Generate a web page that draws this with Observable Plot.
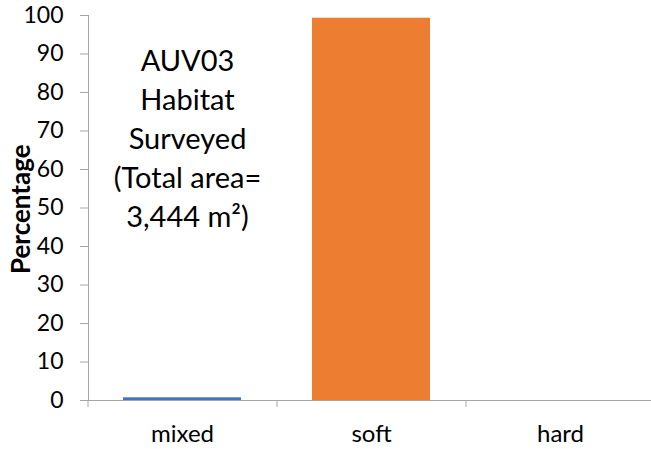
<!DOCTYPE html>
<html>
<head>
<meta charset="utf-8">
<script src="https://cdn.jsdelivr.net/npm/d3@7"></script>
<script src="https://cdn.jsdelivr.net/npm/@observablehq/plot@0.6"></script>
<style>
  html, body { margin: 0; padding: 0; background: white; }
</style>
</head>
<body>
<div id="chart"></div>
<script>
const categories = ["mixed", "soft", "hard"];
const values = [0.7, 99.3, 0];
const barColors = ["#4472C4", "#ED7D31", "#A5A5A5"];
const yTicks = [0, 10, 20, 30, 40, 50, 60, 70, 80, 90, 100];
const yLabel = "Percentage";
const annotationLines = ["AUV03", "Habitat", "Surveyed", "(Total area=", "3,444 m²)"];

const data = categories.map((c, i) => ({category: c, value: values[i], color: barColors[i]}));
const axisColor = "#A6A6A6";

const chart = Plot.plot({
  width: 651,
  height: 449,
  marginLeft: 88,
  marginTop: 15,
  marginBottom: 49,
  marginRight: 0,
  style: {fontFamily: "Lato, 'Open Sans', sans-serif", background: "white", color: "black"},
  x: {domain: categories, range: [88, 655], paddingInner: 0.375, paddingOuter: 0.1875, label: null},
  y: {domain: [0, 100], label: null},
  marks: [
    Plot.barY(data, {x: "category", y: "value", fill: d => d.color}),
    Plot.ruleY([0], {stroke: axisColor}),
    Plot.frame({anchor: "left", stroke: axisColor}),
    Plot.ruleX(categories, {x: d => d, y1: 0, y2: -1.8, dx: -94.5, stroke: axisColor}),
    Plot.axisY({ticks: yTicks, tickSize: 8, tickPadding: 17, fontSize: 23, stroke: axisColor, fill: "black", label: null}),
    Plot.axisX({tickSize: 0, tickPadding: 24, fontSize: 24, fill: "black", label: null}),
    Plot.text([yLabel], {frameAnchor: "left", rotate: -90, dx: -67, dy: 66, fontWeight: "bold", fontSize: 26, fill: "black"}),
    Plot.text([annotationLines.join("\n")], {x: () => categories[0], y: () => 68.5, dx: 5, fontSize: 29, lineHeight: 1.34, lineAnchor: "middle", textAnchor: "middle", fill: "black"})
  ]
});
document.getElementById("chart").appendChild(chart);
</script>
</body>
</html>
